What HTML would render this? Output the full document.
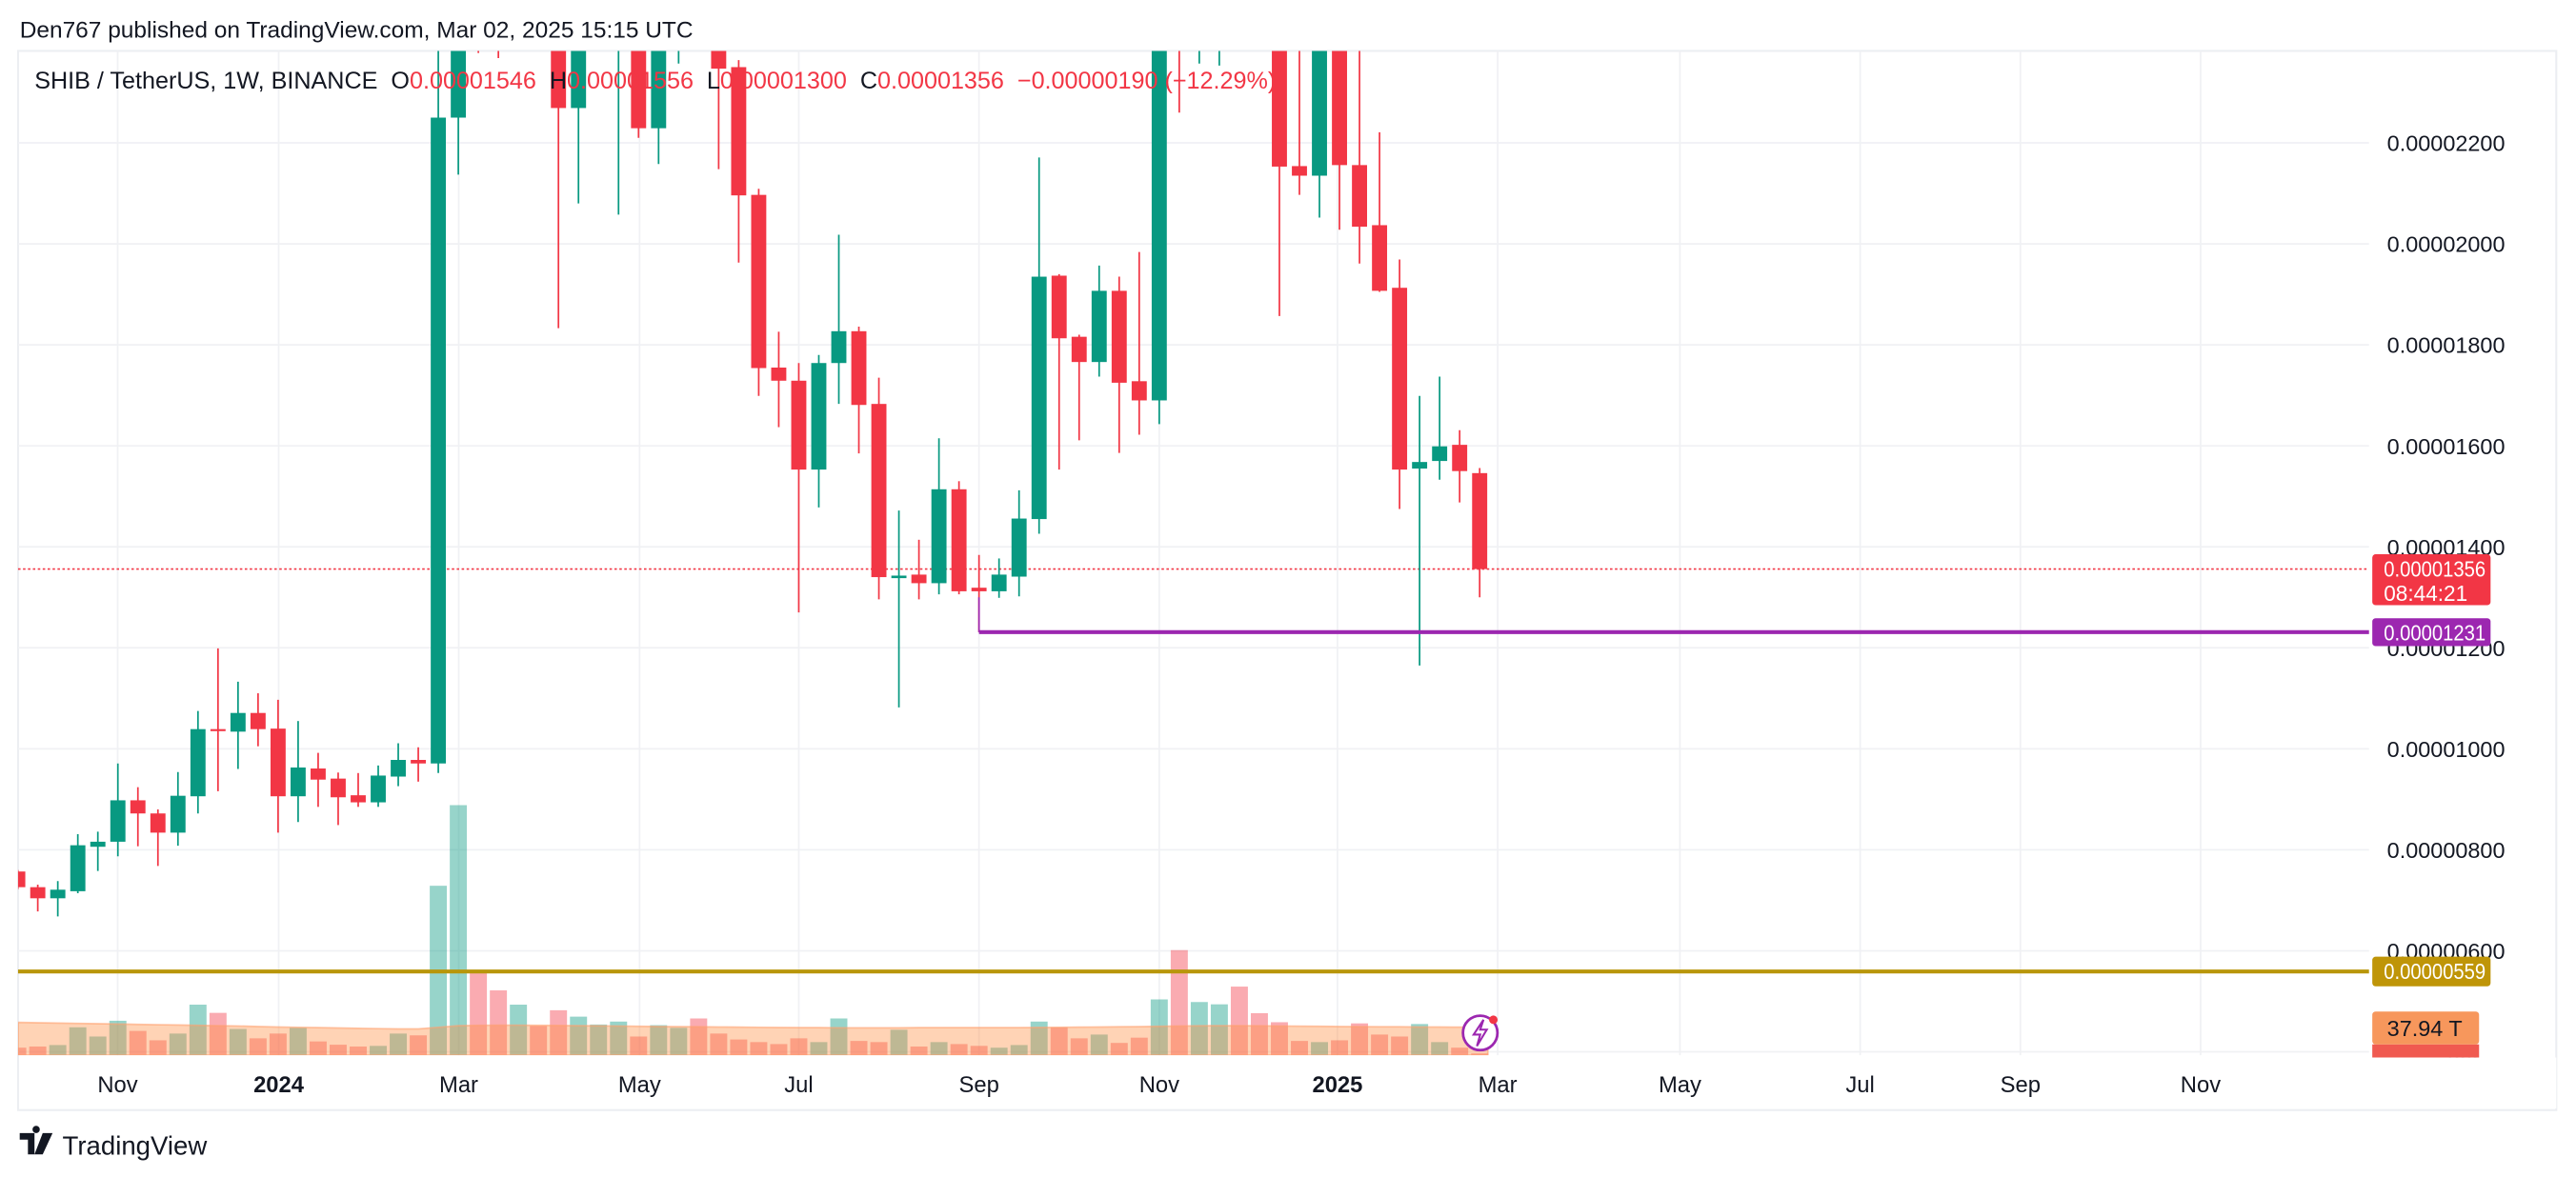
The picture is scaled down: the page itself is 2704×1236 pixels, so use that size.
<!DOCTYPE html>
<html><head><meta charset="utf-8"><title>SHIB / TetherUS 1W</title>
<style>
html,body{margin:0;padding:0;background:#fff;width:2704px;height:1236px;overflow:hidden}
svg{display:block}
text{font-family:"Liberation Sans",sans-serif;white-space:pre}
</style></head>
<body>
<svg id="chart" width="2704" height="1236" viewBox="0 0 1568 716.75" preserveAspectRatio="none" xmlns="http://www.w3.org/2000/svg">
<rect x="0" y="0" width="1568" height="716.75" fill="#fff"/>
<text x="12" y="23" font-size="14.2" fill="#131722">Den767 published on TradingView.com, Mar 02, 2025 15:15 UTC</text>
<rect x="11" y="31" width="1545" height="645" fill="none" stroke="#eceef2" stroke-width="1.2"/>
<g id="grid"></g>
<g id="hlines"></g>
<g id="vol" clip-path="url(#plotclip)"></g>
<g id="candles" clip-path="url(#plotclip)"></g>
<g id="overlays"></g>
<g id="axis"></g>
<text x="21" y="54" font-size="14.6" fill="#131722" xml:space="preserve">SHIB / TetherUS, 1W, BINANCE  O<tspan fill="#f23645">0.00001546</tspan>  H<tspan fill="#f23645">0.00001556</tspan>  L<tspan fill="#f23645">0.00001300</tspan>  C<tspan fill="#f23645">0.00001356  −0.00000190 (−12.29%)</tspan></text>
<g>
<path d="M12 690h9v13h-4v-9h-5z M22 690a2.2 2.2 0 1 1 0.01 0z M26 690h6l-6 13h-5z" fill="#131722"/>
<text x="38" y="703" font-size="16" fill="#131722">TradingView</text>
</g>
<defs><clipPath id="plotclip"><rect x="11" y="31" width="1431" height="611.6"/></clipPath></defs>
</svg>
<script>
const opens  = [757,726,704,718,806,816,898,872,834,906,1039,1034,1071,1040,906,961,941,908,894,945,978,971,2250,2500,2480,2450,2520,2420,2269,2400,2420,2450,2229,2400,2440,2420,2350,2097,1755,1729,1553,1764,1827,1683,1338,1345,1328,1514,1319,1312,1341,1455,1937,1816,1766,1907,1728,1690,2560,2480,2550,2620,2600,2560,2154,2135,2450,2156,2037,1913,1555,1570,1602,1546];
const highs  = [760,731,738,831,836,971,924,880,954,1075,1199,1133,1110,1097,1055,992,953,952,967,1011,1003,2450,2480,2560,2550,2600,2560,2470,2450,2480,2500,2480,2420,2470,2500,2450,2364,2109,1826,1764,1780,2018,1836,1735,1472,1414,1615,1530,1384,1377,1512,2171,1940,1820,1957,1935,1984,2560,2620,2600,2700,2700,2650,2600,2400,2500,2480,2400,2221,1969,1699,1737,1631,1556];
const lows   = [722,678,668,714,758,787,807,768,808,872,916,960,1005,834,855,885,849,885,885,926,935,952,2137,2378,2368,2400,2400,1833,2080,2390,2058,2210,2158,2357,2390,2148,1963,1699,1637,1270,1478,1683,1585,1296,1082,1296,1306,1306,1231,1299,1302,1426,1553,1611,1737,1586,1622,1643,2260,2357,2353,2420,2420,1857,2097,2052,2028,1961,1905,1475,1165,1533,1488,1300];
const closes = [726,704,721,809,816,898,872,834,907,1039,1035,1071,1039,906,963,939,904,894,947,978,971,2250,2420,2430,2400,2520,2450,2269,2400,2440,2470,2229,2400,2440,2420,2347,2096,1754,1729,1553,1764,1827,1681,1340,1343,1328,1514,1312,1312,1345,1456,1935,1813,1766,1907,1725,1690,2500,2480,2550,2620,2600,2560,2153,2135,2450,2156,2034,1907,1553,1568,1599,1550,1356];
const volumes = [4.6,5.3,6.2,17,11.4,21,14.8,9.1,13.2,30.8,25.8,16,10.3,13.2,16.7,8.4,6.4,5.3,5.7,13.2,12.1,103.2,152.3,52,39.5,30.8,17.8,27.4,23.5,18.7,20.5,11.4,18.3,16.7,22.4,13.2,9.6,8,6.8,10.3,8,22.4,8.7,8,15.5,5.3,8,6.8,5.7,4.6,6.2,20.5,17,10.3,12.6,7.5,10.7,34,64,32.4,31,41.8,25.6,20.1,8.7,8,9.1,19.4,12.6,11.4,19,8,4.6,1.1];
const volumeMA = [20,19.8,19.6,19.4,19.2,19,18.8,18.6,18.4,18.2,18,17.8,17.5,17.2,17,16.8,16.6,16.4,16.2,16,16,17,18,18.2,18.3,18.3,18.2,18.1,18,17.9,17.8,17.6,17.5,17.4,17.3,17.2,17.1,17,16.9,16.8,16.8,16.7,16.7,16.7,16.7,16.8,16.8,16.8,16.8,16.8,16.8,16.9,17,17.1,17.2,17.3,17.4,17.6,17.8,17.9,18,18,17.9,17.8,17.7,17.6,17.5,17.4,17.3,17.3,17.2,17.2,17.1,17];
const priceTicks = [2200,2000,1800,1600,1400,1200,1000,800,600];
const priceTickLabels = ["0.00002200","0.00002000","0.00001800","0.00001600","0.00001400","0.00001200","0.00001000","0.00000800","0.00000600"];
const monthWeeks = [4.99,13.03,22.02,31.05,39.0,48.0,57.0,65.9,73.9,83.0,92.0,100.0,109.0];
const monthLabels = ["Nov","2024","Mar","May","Jul","Sep","Nov","2025","Mar","May","Jul","Sep","Nov"];
const boldMonths = ["2024","2025"];
const supportLevel = 1231, supportStart = 48;
const goldLevel = 559;
const lastPrice = 1356;

const NS = "http://www.w3.org/2000/svg";
const PLOT_L = 11, PLOT_R = 1442, PLOT_T = 31, VOL_BASE = 642.6;
function xW(i){ return 10.8 + 12.19*i; }
function yP(p){ return 87 + (2200 - p)*0.3075; }
function hV(v){ return v; }
function mk(tag, attrs, parent){ const e=document.createElementNS(NS,tag); for(const k in attrs) e.setAttribute(k,attrs[k]); parent.appendChild(e); return e; }

const grid=document.getElementById('grid');
priceTicks.forEach((p,i)=>{
  const l=mk('line',{x1:PLOT_L,x2:PLOT_R,y1:yP(p),y2:yP(p),stroke:'#f0f1f4','stroke-width':1},grid);
  
  
});
{ const l=mk('line',{x1:PLOT_L,x2:PLOT_R,y1:yP(400),y2:yP(400),stroke:'#f0f1f4','stroke-width':1},grid);
  
   }
monthWeeks.forEach((w,i)=>{
  const l=mk('line',{x1:xW(w),x2:xW(w),y1:PLOT_T,y2:VOL_BASE,stroke:'#f0f1f4','stroke-width':1},grid);
  
  
});

const vol=document.getElementById('vol');
volumes.forEach((v,i)=>{
  const up=closes[i]>=opens[i];
  const h=hV(v);
  const r=mk('rect',{x:xW(i)-5.2,y:VOL_BASE-h,width:10.4,height:h,fill:up?'rgba(8,153,129,0.42)':'rgba(242,54,69,0.42)'},vol);
  
  
});
let d='M'+PLOT_L+' '+VOL_BASE;
volumeMA.forEach((m,i)=>{ d+=' L'+(i==0?PLOT_L:xW(i))+' '+(VOL_BASE-hV(m)); });
d+=' L'+(xW(volumeMA.length-1)+5)+' '+(VOL_BASE-hV(volumeMA[volumeMA.length-1]))+' L'+(xW(volumeMA.length-1)+5)+' '+VOL_BASE+' Z';
const ma=mk('path',{d:d,fill:'rgba(255,140,60,0.38)',stroke:'rgba(255,160,110,0.6)','stroke-width':1},vol);



const hl=document.getElementById('hlines');
{ const l=mk('line',{x1:PLOT_L,x2:PLOT_R,y1:yP(lastPrice),y2:yP(lastPrice),stroke:'#f23645','stroke-width':1,'stroke-dasharray':'1.5 1.5'},hl);
  
   }

const cg=document.getElementById('candles');
opens.forEach((o,i)=>{
  const c=closes[i], up=c>=o, col=up?'#089981':'#f23645', x=xW(i);
  const g=mk('g',{},cg);
  
  
  mk('line',{x1:x,x2:x,y1:yP(highs[i]),y2:yP(lows[i]),stroke:col,'stroke-width':1},g);
  const top=yP(Math.max(o,c)), bot=yP(Math.min(o,c));
  mk('rect',{x:x-4.6,y:top,width:9.2,height:Math.max(1.2,bot-top),fill:col},g);
});

const ov=document.getElementById('overlays');
{ const l=mk('line',{x1:xW(supportStart),x2:PLOT_R,y1:yP(supportLevel),y2:yP(supportLevel),stroke:'#9c27b0','stroke-width':2.4},ov);
  
  
  const l2=mk('line',{x1:xW(supportStart),x2:xW(supportStart),y1:yP(1300),y2:yP(supportLevel),stroke:'#9c27b0','stroke-width':1},ov);
  
   }
{ const l=mk('line',{x1:PLOT_L,x2:PLOT_R,y1:yP(goldLevel),y2:yP(goldLevel),stroke:'#b8960a','stroke-width':2.4},ov);
  
   }
{ const g=mk('g',{},ov);
  
  
  mk('circle',{cx:901,cy:629,r:10.5,fill:'#fff',stroke:'#9c27b0','stroke-width':1.6},g);
  mk('path',{d:'M903 621 L897 630 L901 630 L899 637 L905 627 L901 627 Z',fill:'none',stroke:'#9c27b0','stroke-width':1.2},g);
  mk('circle',{cx:909,cy:621,r:2.6,fill:'#f23645'},g); }

const ax=document.getElementById('axis');
priceTicks.forEach((p,i)=>{
  const t=mk('text',{x:1453,y:yP(p)+5,'font-size':13.6,fill:'#131722'},ax);
  t.textContent=priceTickLabels[i];
  
  
});
{ const t=mk('text',{x:1486,y:yP(400)+5,'font-size':13.6,fill:'#131722'},ax);
  t.textContent='400';
  
   }
monthWeeks.forEach((w,i)=>{
  const b=boldMonths.includes(monthLabels[i]);
  const t=mk('text',{x:xW(w),y:665,'font-size':13.8,'text-anchor':'middle',fill:'#131722','font-weight':b?'bold':'normal'},ax);
  t.textContent=monthLabels[i];
  
  
});
function tag(y,h,bg,lines,name){
  const g=mk('g',{},ax);
  
  
  mk('rect',{x:1444,y:y,width:72,height:h,rx:2,fill:bg},g);
  lines.forEach((s,k)=>{ const t=mk('text',{x:1451,y:y+13.5+k*15,'font-size':13.6,fill:'#fff',textLength:s.length>8?62:51,lengthAdjust:'spacingAndGlyphs'},g); t.textContent=s; });
}
tag(yP(lastPrice)-9,31,'#f23645',['0.00001356','08:44:21'],'last-price-label');
tag(yP(supportLevel)-8.5,17,'#9c27b0',['0.00001231'],'support-price-label');
tag(yP(goldLevel)-9,18,'#bf9508',['0.00000559'],'gold-price-label');
{ const g=mk('g',{},ax);
  
  
  mk('rect',{x:1444,y:636,width:65,height:8,fill:'#f05a50'},g);
  mk('rect',{x:1444,y:616,width:65,height:20,rx:2,fill:'#f7975c'},g);
  const t=mk('text',{x:1453,y:631,'font-size':13.6,fill:'#131722'},g); t.textContent='37.94 T'; }
{ const m=mk('rect',{x:1444,y:644,width:112,height:31,fill:'#fff'},ax);
  
   }
</script>
</body></html>
